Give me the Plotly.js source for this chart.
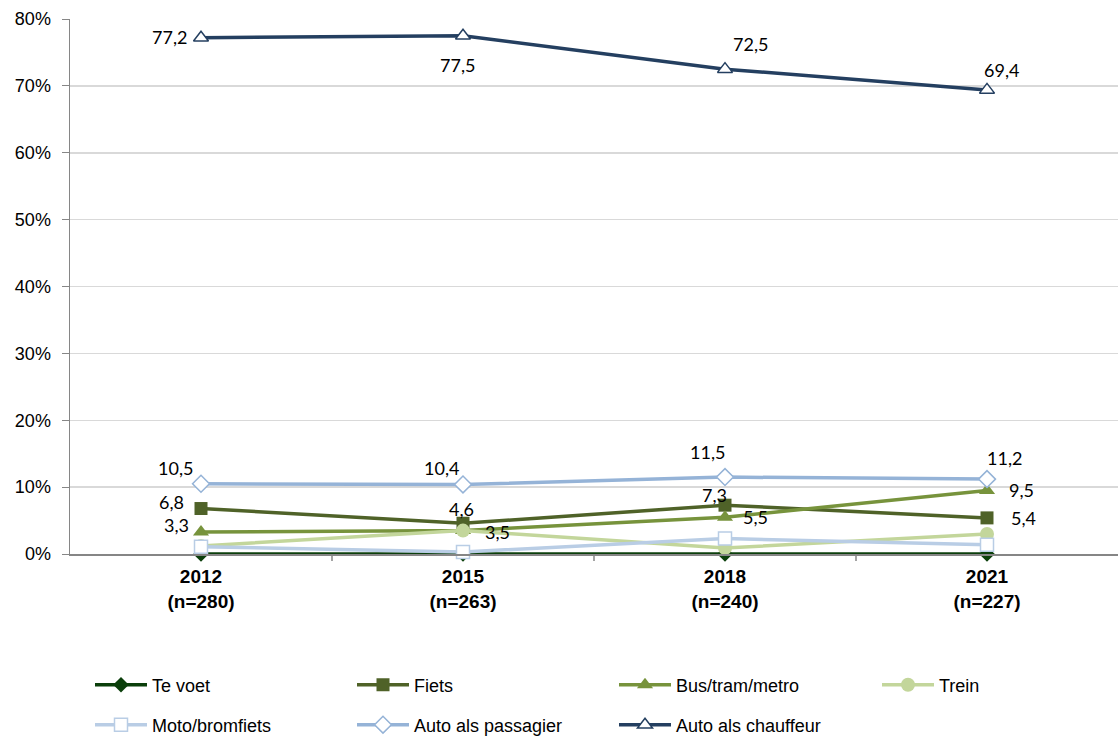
<!DOCTYPE html>
<html><head><meta charset="utf-8">
<script src="https://cdn.plot.ly/plotly-3.0.1.min.js"></script>
<style>html,body{margin:0;padding:0;background:#fff}#c{width:1118px;height:736px}</style>
</head><body><div id="c"></div>
<script>
const years = ["2012", "2015", "2018", "2021"];
const sampleSizes = ["n=280", "n=263", "n=240", "n=227"];
const teVoet = [0.0, 0.0, 0.0, 0.0];
const fiets = [6.8, 4.6, 7.3, 5.4];
const bus = [3.3, 3.5, 5.5, 9.5];
const trein = [1.2, 3.5, 0.9, 3.0];
const moto = [1.1, 0.3, 2.3, 1.4];
const passagier = [10.5, 10.4, 11.5, 11.2];
const chauffeur = [77.2, 77.5, 72.5, 69.4];

// label offsets in pixels (style only)
const labelOffsets = {
  fiets: [[-30, 7], [-2, 14], [-11, 10], [36, 0]],
  bus: [[-25, 7], [34, -1], [30, 0], [34, 0]],
  passagier: [[-26, 16], [-22, 16], [-18, 25], [17, 21]],
  chauffeur: [[-32, 1], [-6, -29], [25, 25], [14, 20]]
};

const xs = years.map((_, i) => i);
const fmt = v => v.toFixed(1).replace('.', ',');
const labelFont = {family: 'Lato, Open Sans, sans-serif', size: 18, color: '#000'};

function tr(name, y, color, symbol, opts) {
  opts = opts || {};
  return {
    x: xs, y: y, name: name, type: 'scatter', mode: 'lines+markers',
    legend: opts.legend || 'legend',
    line: {color: color, width: 3.5},
    marker: opts.open
      ? {symbol: symbol, size: opts.size || 11, color: '#fff', line: {color: color, width: 1.5}}
      : {symbol: symbol, size: opts.size || 11, color: color},
    cliponaxis: false,
    hoverinfo: 'skip'
  };
}

const data = [
  tr('Te voet', teVoet, '#0B3F0B', 'diamond', {size: 12}),
  tr('Fiets', fiets, '#4F6228', 'square', {size: 13}),
  tr('Bus/tram/metro', bus, '#77933C', 'triangle-up', {size: 14}),
  tr('Trein', trein, '#C3D69B', 'circle', {size: 14, legend: 'legend3'}),
  tr('Moto/bromfiets', moto, '#B9CDE5', 'square', {open: true, size: 13, legend: 'legend2'}),
  tr('Auto als passagier', passagier, '#95B3D7', 'diamond', {open: true, size: 13, legend: 'legend2'}),
  tr('Auto als chauffeur', chauffeur, '#243F60', 'triangle-up', {open: true, size: 13, legend: 'legend2'})
];

const annotations = [];
function addLabels(series, offs) {
  series.forEach((v, i) => {
    annotations.push({
      x: xs[i], y: v, xref: 'x', yref: 'y', text: fmt(v), showarrow: false,
      xshift: offs[i][0], yshift: offs[i][1], font: labelFont
    });
  });
}
addLabels(fiets, labelOffsets.fiets);
addLabels(bus, labelOffsets.bus);
addLabels(passagier, labelOffsets.passagier);
addLabels(chauffeur, labelOffsets.chauffeur);

const legendCommon = {
  orientation: 'h', xanchor: 'left', yanchor: 'middle',
  xref: 'container', yref: 'container',
  entrywidth: 195, entrywidthmode: 'pixels',
  font: {size: 18, family: 'Liberation Sans, Arial, sans-serif', color: '#000'},
  itemwidth: 52, tracegroupgap: 0, bgcolor: 'rgba(0,0,0,0)'
};

const layout = {
  width: 1118, height: 736,
  margin: {l: 70, r: 0, t: 19, b: 182},
  paper_bgcolor: '#fff', plot_bgcolor: '#fff',
  font: {family: 'Liberation Sans, Arial, sans-serif', color: '#000'},
  showlegend: true,
  annotations: annotations,
  xaxis: {
    range: [-0.5, 3.5],
    tickmode: 'array',
    tickvals: xs,
    ticktext: years.map((y, i) => '<b>' + y + '<br>(' + sampleSizes[i] + ')</b>'),
    tickfont: {size: 19, family: 'Liberation Sans, Arial, sans-serif'},
    ticks: '', showgrid: false, zeroline: false, ticklabelstandoff: 5,
    showline: true, linecolor: '#868686', linewidth: 1.5,
    fixedrange: true, automargin: false
  },
  yaxis: {
    range: [0, 80],
    tickvals: [0, 10, 20, 30, 40, 50, 60, 70, 80],
    ticktext: ['0%', '10%', '20%', '30%', '40%', '50%', '60%', '70%', '80%'],
    tickfont: {size: 18, family: 'Liberation Sans, Arial, sans-serif'},
    ticks: 'outside', ticklen: 7, tickcolor: '#868686', ticklabelstandoff: 7,
    showgrid: true, gridcolor: '#D9D9D9', gridwidth: 1.5,
    zeroline: false, showline: true, linecolor: '#868686', linewidth: 1.5,
    fixedrange: true, automargin: false
  },
  shapes: [1, 2, 3].map(i => ({
    type: 'line', xref: 'x', yref: 'paper', x0: i - 0.5, x1: i - 0.5, y0: 0, y1: -0.013,
    line: {color: '#868686', width: 1.5}
  })),
  legend: Object.assign({}, legendCommon, {x: 90 / 1118, y: (736 - 685) / 736}),
  legend3: Object.assign({}, legendCommon, {x: 877 / 1118, y: (736 - 685) / 736}),
  legend2: Object.assign({}, legendCommon, {x: 90 / 1118, y: (736 - 725) / 736})
};

Plotly.newPlot('c', data, layout, {displayModeBar: false, staticPlot: true});
</script>
</body></html>
